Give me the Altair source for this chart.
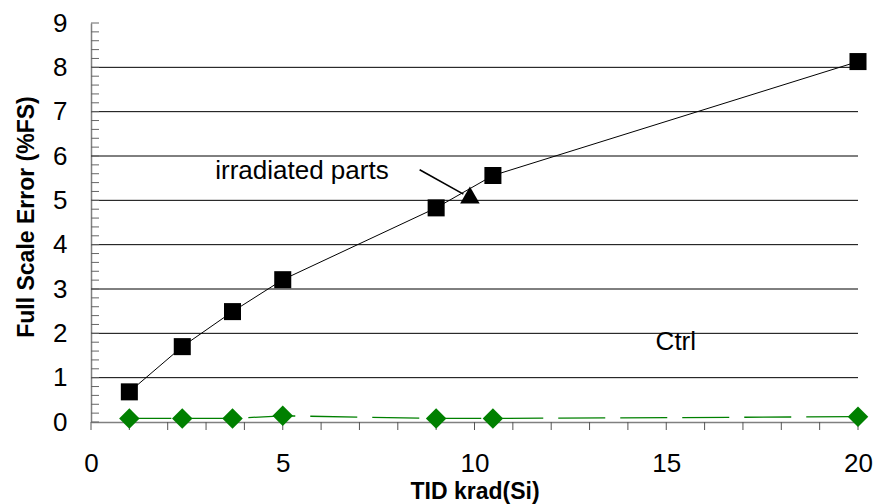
import altair as alt
import pandas as pd

# ---- data ----
dose = [1.0, 2.38, 3.69, 5.0, 9.0, 10.48, 20.0]
irradiated = [0.68, 1.70, 2.49, 3.21, 4.83, 5.56, 8.13]
ctrl = [0.08, 0.08, 0.08, 0.14, 0.08, 0.08, 0.12]
marker_dose = [9.88]
marker_err = [5.12]

arrow_from = (8.57, 5.69)
arrow_to = (9.71, 5.14)

label_irr = "irradiated parts"
label_irr_pos = (5.50, 5.66)
label_ctrl = "Ctrl"
label_ctrl_pos = (15.25, 1.80)

x_labels = [0, 5, 10, 15, 20]
x_minor = list(range(0, 21))
y_ticks = list(range(0, 10))
y_grid = [1, 2, 3, 4, 5, 6, 7, 8]
y_minor = [round(i * 0.2, 1) for i in range(0, 46)]

FONT = "Liberation Sans"
GREEN = "#008000"
W, H = 767, 399

main_df = pd.DataFrame({"dose": dose, "irr": irradiated, "ctrl": ctrl})
tri_df = pd.DataFrame({"dose": marker_dose, "err": marker_err})
grid_df = pd.DataFrame({"g": y_grid})
yminor_df = pd.DataFrame({"t": y_minor})
xminor_df = pd.DataFrame({"t": x_minor})
arrow_df = pd.DataFrame({"x": [arrow_from[0]], "y": [arrow_from[1]],
                         "x2": [arrow_to[0]], "y2": [arrow_to[1]]})
text_df = pd.DataFrame({"x": [label_irr_pos[0], label_ctrl_pos[0]],
                        "y": [label_irr_pos[1], label_ctrl_pos[1]],
                        "t": [label_irr, label_ctrl]})

xscale = alt.Scale(domain=[0, 20], nice=False, zero=False)
yscale = alt.Scale(domain=[0, 9], nice=False, zero=False)

xaxis = alt.Axis(values=x_labels, format="d",
                 title="TID krad(Si)", grid=False, ticks=False,
                 domainColor="#808080", domainWidth=1.5, labelFontSize=26, labelFont=FONT,
                 labelColor="black", labelPadding=28, labelFlush=False, labelOverlap=False,
                 titleFont=FONT, titleFontSize=23, titleFontWeight="bold", titleColor="black",
                 titleBaseline="alphabetic", titleY=76)
yaxis = alt.Axis(values=y_ticks, format="d", title="Full Scale Error (%FS)", grid=False, ticks=False,
                 domainColor="#808080", domainWidth=1.5, labelFontSize=26, labelFont=FONT,
                 labelColor="black", labelPadding=24, labelFlush=False, labelOverlap=False,
                 titleFont=FONT, titleFontSize=23, titleFontWeight="bold", titleColor="black",
                 titleBaseline="alphabetic", titleX=-58, titleY=193.5, titleAngle=270)

grid = alt.Chart(grid_df).mark_rule(color="black", strokeWidth=1).encode(
    y=alt.Y("g:Q", scale=yscale, axis=yaxis), x=alt.value(0), x2=alt.value(W))

yminor = alt.Chart(yminor_df).mark_rule(color="#666666", strokeWidth=1).encode(
    y=alt.Y("t:Q", scale=yscale), x=alt.value(0), x2=alt.value(8))

xminor = alt.Chart(xminor_df).mark_rule(color="#555555", strokeWidth=1).encode(
    x=alt.X("t:Q", scale=xscale, axis=xaxis), y=alt.value(H), y2=alt.value(H + 8))

ctrl_line = alt.Chart(main_df).mark_line(color=GREEN, strokeWidth=1.3,
                                         strokeDash=[47, 15], strokeDashOffset=5).encode(
    x=alt.X("dose:Q", scale=xscale), y=alt.Y("ctrl:Q", scale=yscale))
ctrl_pts = alt.Chart(main_df).mark_point(shape="diamond", filled=True, size=420,
                                         color=GREEN, opacity=1).encode(
    x=alt.X("dose:Q", scale=xscale), y=alt.Y("ctrl:Q", scale=yscale))

irr_line = alt.Chart(main_df).mark_line(color="black", strokeWidth=1).encode(
    x=alt.X("dose:Q", scale=xscale), y=alt.Y("irr:Q", scale=yscale))
irr_pts = alt.Chart(main_df).mark_point(shape="square", filled=True, size=290,
                                        color="black", opacity=1).encode(
    x=alt.X("dose:Q", scale=xscale), y=alt.Y("irr:Q", scale=yscale))

tri = alt.Chart(tri_df).mark_point(shape="triangle-up", filled=True, size=380,
                                   color="black", opacity=1).encode(
    x=alt.X("dose:Q", scale=xscale), y=alt.Y("err:Q", scale=yscale))

arrow = alt.Chart(arrow_df).mark_rule(color="black", strokeWidth=1.6).encode(
    x=alt.X("x:Q", scale=xscale), y=alt.Y("y:Q", scale=yscale), x2="x2:Q", y2="y2:Q")

texts = alt.Chart(text_df).mark_text(font=FONT, fontSize=26, color="black",
                                     align="center", baseline="middle").encode(
    x=alt.X("x:Q", scale=xscale), y=alt.Y("y:Q", scale=yscale), text="t:N")

chart = alt.layer(grid, yminor, xminor, ctrl_line, ctrl_pts, irr_line, irr_pts, tri, arrow, texts).properties(
    width=W, height=H,
    autosize=alt.AutoSizeParams(type="none"),
    padding={"left": 91, "top": 23, "right": 20, "bottom": 82},
    background="white",
).configure_view(stroke=None).configure_axis(labelOverlap=False)

chart.save("out.html", embed_options={"renderer": "svg", "actions": False})
